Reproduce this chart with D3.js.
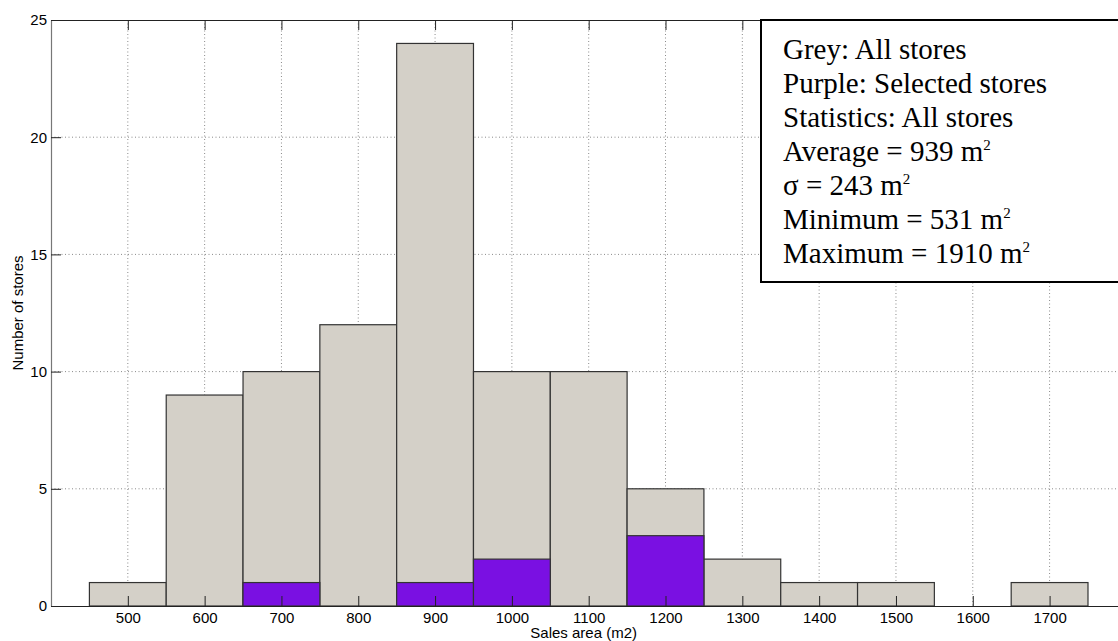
<!DOCTYPE html>
<html>
<head>
<meta charset="utf-8">
<script src="https://cdn.jsdelivr.net/npm/d3@7"></script>
<style>
  html, body { margin: 0; padding: 0; background: #fff; }
  svg { display: block; }
</style>
</head>
<body>
<svg id="chart" width="1118" height="641"></svg>
<script>
// Histogram bin centres (sales area, m2)
const binCenters = [500, 600, 700, 800, 900, 1000, 1100, 1200, 1300, 1400, 1500, 1600, 1700];
// Number of stores per bin: all stores
const allStores = [1, 9, 10, 12, 24, 10, 10, 5, 2, 1, 1, 0, 1];
// Number of stores per bin: selected stores
const selectedStores = [0, 0, 1, 0, 1, 2, 0, 3, 0, 0, 0, 0, 0];
const binWidth = 100;

const xTicks = [500, 600, 700, 800, 900, 1000, 1100, 1200, 1300, 1400, 1500, 1600, 1700];
const yTicks = [0, 5, 10, 15, 20, 25];

const legendLines = [
  { text: "Grey: All stores" },
  { text: "Purple: Selected stores" },
  { text: "Statistics: All stores" },
  { text: "Average = 939 m", sup: "2" },
  { text: "\u03C3 = 243 m", sup: "2" },
  { text: "Minimum = 531 m", sup: "2" },
  { text: "Maximum = 1910 m", sup: "2" }
];

const svg = d3.select("#chart");
const plotLeft = 51, plotRight = 1126.4, plotTop = 20, plotBottom = 606;

const x = d3.scaleLinear().domain([400, 1800]).range([plotLeft, plotRight]);
const y = d3.scaleLinear().domain([0, 25]).range([plotBottom, plotTop]);

const greyFill = "#d4d0c8";
const purpleFill = "#7a10e2";
const sansFont = "Liberation Sans, Arial, sans-serif";

// Dotted grid behind the bars
const grid = svg.append("g");
grid.selectAll("line.vx").data(xTicks).join("line")
  .attr("x1", d => x(d)).attr("x2", d => x(d))
  .attr("y1", plotTop).attr("y2", plotBottom)
  .attr("stroke", "#8a8a8a").attr("stroke-width", 1)
  .attr("stroke-dasharray", "1,2.5");
grid.selectAll("line.hy").data(yTicks.filter(d => d > 0 && d < 25)).join("line")
  .attr("x1", plotLeft).attr("x2", plotRight)
  .attr("y1", d => y(d)).attr("y2", d => y(d))
  .attr("stroke", "#8a8a8a").attr("stroke-width", 1)
  .attr("stroke-dasharray", "1,2.5");

// Grey bars: all stores
const bars = binCenters.map((c, i) => ({ c, all: allStores[i], sel: selectedStores[i] }));
svg.append("g").selectAll("rect").data(bars.filter(d => d.all > 0)).join("rect")
  .attr("x", d => x(d.c - binWidth / 2))
  .attr("width", d => x(d.c + binWidth / 2) - x(d.c - binWidth / 2))
  .attr("y", d => y(d.all))
  .attr("height", d => y(0) - y(d.all))
  .attr("fill", greyFill)
  .attr("stroke", "#333").attr("stroke-width", 1.2);

// Purple bars: selected stores
svg.append("g").selectAll("rect").data(bars.filter(d => d.sel > 0)).join("rect")
  .attr("x", d => x(d.c - binWidth / 2))
  .attr("width", d => x(d.c + binWidth / 2) - x(d.c - binWidth / 2))
  .attr("y", d => y(d.sel))
  .attr("height", d => y(0) - y(d.sel))
  .attr("fill", purpleFill)
  .attr("stroke", "#333").attr("stroke-width", 1.2);

// Axes (ticks pointing inwards)
const xAxis = d3.axisBottom(x).tickValues(xTicks).tickFormat(d3.format("d"))
  .tickSizeInner(-10).tickSizeOuter(0).tickPadding(6);
const gx = svg.append("g").attr("transform", `translate(0,${plotBottom})`).call(xAxis);
const xTop = d3.axisTop(x).tickValues(xTicks).tickSizeInner(-10).tickSizeOuter(0).tickFormat("");
const gxt = svg.append("g").attr("transform", `translate(0,${plotTop})`).call(xTop);
const yAxis = d3.axisLeft(y).tickValues(yTicks).tickSizeInner(-10).tickSizeOuter(0).tickPadding(15);
const gy = svg.append("g").attr("transform", `translate(${plotLeft},0)`).call(yAxis);

[gx, gxt, gy].forEach(g => {
  g.select(".domain").attr("stroke", "#222").attr("stroke-width", 1.2);
  g.selectAll(".tick line").attr("stroke", "#222").attr("stroke-width", 1);
  g.selectAll(".tick text").attr("font-family", sansFont).attr("font-size", 15).attr("fill", "#000");
});
gy.select(".domain").attr("stroke", "#777");
gy.selectAll(".tick text").attr("dx", 11);

// Axis titles
svg.append("text")
  .attr("x", (x(400) + x(1800)) / 2 - 5).attr("y", 638)
  .attr("text-anchor", "middle")
  .attr("font-family", sansFont).attr("font-size", 15)
  .text("Sales area (m2)");
svg.append("text")
  .attr("transform", `translate(23,${(plotTop + plotBottom) / 2}) rotate(-90)`)
  .attr("text-anchor", "middle")
  .attr("font-family", sansFont).attr("font-size", 15)
  .text("Number of stores");

// Statistics box
const box = svg.append("g");
box.append("rect")
  .attr("x", 761).attr("y", 20)
  .attr("width", 400).attr("height", 262)
  .attr("fill", "#fff").attr("stroke", "#000").attr("stroke-width", 2);
const lineTexts = box.selectAll("text").data(legendLines).join("text")
  .attr("x", 783)
  .attr("y", (d, i) => 59 + i * 34)
  .attr("font-family", "Liberation Serif, Times New Roman, serif")
  .attr("font-size", 29)
  .attr("fill", "#000");
lineTexts.append("tspan").text(d => d.text);
lineTexts.filter(d => d.sup).append("tspan")
  .attr("dy", -11).attr("font-size", 15)
  .text(d => d.sup);
</script>
</body>
</html>
